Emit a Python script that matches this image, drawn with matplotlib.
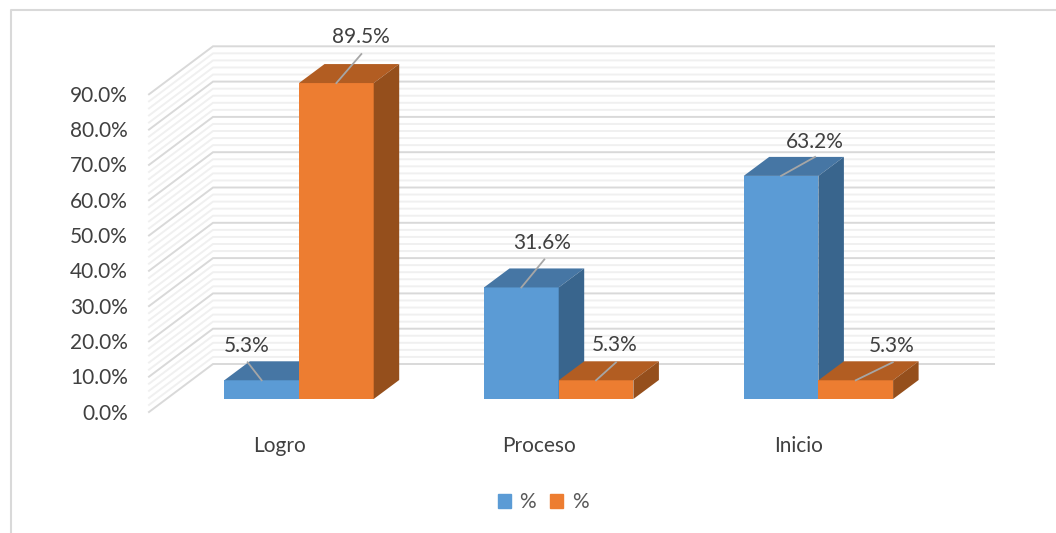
import numpy as np
from matplotlib import pyplot as plt
from matplotlib.patches import Patch

plt.rcParams['font.family'] = ['Lato', 'DejaVu Sans']

# datos
categorias = ['Logro', 'Proceso', 'Inicio']
serie_azul = [5.3, 31.6, 63.2]
serie_naranja = [89.5, 5.3, 5.3]
ticks_mayor = [0, 10, 20, 30, 40, 50, 60, 70, 80, 90]
ticks_menor = [2, 4, 6, 8, 12, 14, 16, 18, 22, 24, 26, 28, 32, 34, 36, 38, 42, 44, 46, 48,
               52, 54, 56, 58, 62, 64, 66, 68, 72, 74, 76, 78, 82, 84, 86, 88]

# escala: pixeles por categoria y por punto porcentual
W, H = 1056, 533
px_x = 259.7
px_y = 3.53
x0_px = 299
y0_px = 399
tam = 15


def dx(px):
    return px / px_x


def dy(px):
    return px / px_y


fig = plt.figure(figsize=(W / 100, H / 100), dpi=100)
ax = fig.add_axes([0, 0, 1, 1])
ax.set_xlim(-x0_px / px_x, (W - x0_px) / px_x)
ax.set_ylim(-(H - y0_px) / px_y, y0_px / px_y)
ax.axis('off')

# paredes 3D
x_frente = dx(149 - x0_px)
x_fondo = dx(213 - x0_px)
x_fin = dx(994 - x0_px)
y_frente = dy(399 - 412)
y_fondo = dy(399 - 364)


def linea_pared(v, color, lw, z):
    ax.plot([x_frente, x_fondo, x_fin],
            [y_frente + v, y_fondo + v, y_fondo + v],
            color=color, lw=lw, zorder=z, solid_joinstyle='miter')


for v in ticks_menor:
    linea_pared(v, '#F0F0F0', 1.4, 1)
for v in ticks_mayor:
    linea_pared(v, '#D9D9D9', 1.4, 2)
    ax.text(dx(128 - x0_px), y_frente + v + dy(-1.5), '%.1f%%' % v, ha='right', va='center',
            fontsize=tam, color='#404040')

# barras
ancho = 74.7 / px_x
prof_x = dx(25.5)
prof_y = dy(19)
x = np.arange(len(categorias))


def barra3d(xs, vals, frente, arriba, lado, z):
    ax.bar(xs, vals, width=ancho, align='edge', color=frente, zorder=z)
    for xi, v in zip(xs, vals):
        ax.fill([xi, xi + ancho, xi + ancho + prof_x, xi + prof_x],
                [v, v, v + prof_y, v + prof_y], color=arriba, lw=0, zorder=z)
        ax.fill([xi + ancho, xi + ancho + prof_x, xi + ancho + prof_x, xi + ancho],
                [0, prof_y, v + prof_y, v], color=lado, lw=0, zorder=z)


barra3d(x - ancho, serie_azul, '#5B9BD5', '#4676A4', '#39658D', 3)
barra3d(x, serie_naranja, '#ED7D31', '#B25D22', '#954F1C', 4)

# etiquetas con linea guia (desplazamiento en pixeles)
guia_azul = [(-14, 18), (23, 28), (34, 19)]
guia_naranja = [(25, 29), (20, 18), (37, 18)]
texto_azul = [(-15, 34), (21, 44), (34, 34)]
texto_naranja = [(25, 46), (19, 35), (36, 34)]


def etiquetas(xs, vals, guias, textos):
    for xi, v, g, t in zip(xs, vals, guias, textos):
        xc = xi + ancho / 2
        ax.plot([xc, xc + dx(g[0])], [v, v + dy(g[1])], color='#A6A6A6', lw=1.3, zorder=5)
        ax.annotate('%.1f%%' % v, (xc, v), xytext=t, textcoords='offset pixels',
                    ha='center', va='center', fontsize=tam, color='#404040', zorder=6)


etiquetas(x - ancho, serie_azul, guia_azul, texto_azul)
etiquetas(x, serie_naranja, guia_naranja, texto_naranja)

# categorias
for xi, c in zip(x, categorias):
    ax.text(xi + dx(-20), dy(399 - 445.5), c, ha='center', va='center', fontsize=tam, color='#404040')

# leyenda
ax.legend(handles=[Patch(color='#5B9BD5', label='%'), Patch(color='#ED7D31', label='%')],
          ncols=2, frameon=False, loc='center', bbox_to_anchor=(543 / W, 1 - 502 / H),
          fontsize=15, labelcolor='#595959', handlelength=0.65, handleheight=0.65,
          handletextpad=0.4, columnspacing=0.65)

# marco recortado
fig.add_artist(plt.Line2D([11 / W, 11 / W, 1], [0, 1 - 10 / H, 1 - 10 / H],
                          color='#D9D9D9', lw=1.5))

fig.savefig('out.png', dpi=100)
